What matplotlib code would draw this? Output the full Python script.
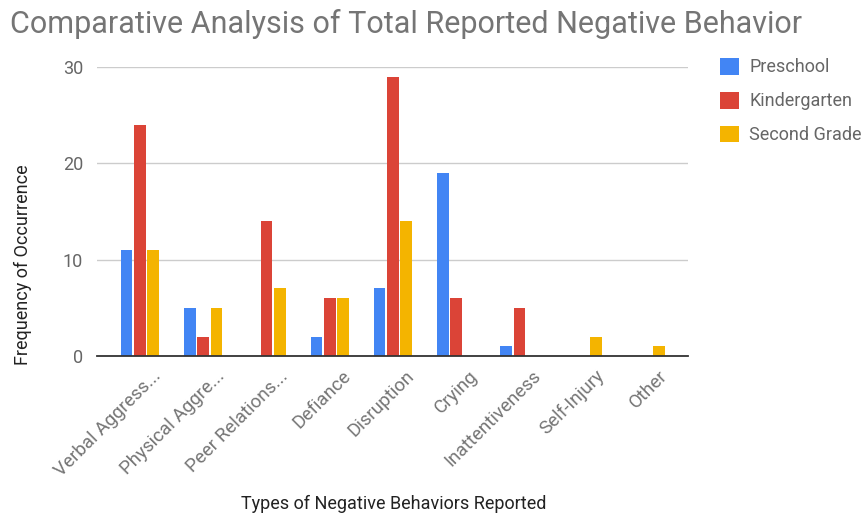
import matplotlib.pyplot as plt
import matplotlib.transforms as mtransforms
import numpy as np

categories = ['Verbal Aggress...', 'Physical Aggre...', 'Peer Relations...', 'Defiance',
              'Disruption', 'Crying', 'Inattentiveness', 'Self-Injury', 'Other']
preschool = [11, 5, 0, 2, 7, 19, 1, 0, 0]
kindergarten = [24, 2, 14, 6, 29, 6, 5, 0, 0]
second_grade = [11, 5, 7, 6, 14, 0, 0, 2, 1]
series_names = ['Preschool', 'Kindergarten', 'Second Grade']
y_ticks = [0, 10, 20, 30]

colors = ['#4285F4', '#DB4437', '#F4B400']

plt.rcParams['font.family'] = ['Roboto', 'DejaVu Sans']

fig = plt.figure(figsize=(8.65, 5.15), dpi=100)
ax = fig.add_axes([0.112, 0.309, 0.683, 0.561])

x = np.arange(len(categories))
width = 0.185
offsets = [-0.21, 0, 0.21]
for vals, off, col, name in zip([preschool, kindergarten, second_grade], offsets, colors, series_names):
    ax.bar(x + off, vals, width, color=col, label=name, zorder=3)

ax.set_xlim(-0.68, 8.66)
ax.set_ylim(0, 30)
ax.set_yticks(y_ticks)
ax.set_yticklabels([str(t) for t in y_ticks], fontsize=13, color='#666666')
ax.set_xticks(x)
ax.set_xticklabels(categories, rotation=45, ha='right', rotation_mode='anchor',
                   fontsize=13.5, color='#757575')
ax.tick_params(axis='both', length=0)
ax.tick_params(axis='y', pad=10)
ax.tick_params(axis='x', pad=8)
shift = mtransforms.ScaledTranslation(12 / 100, 0, fig.dpi_scale_trans)
for lbl in ax.get_xticklabels():
    lbl.set_transform(lbl.get_transform() + shift)

ax.grid(axis='y', color='#cccccc', linewidth=1, zorder=0)
for s in ['top', 'right', 'left']:
    ax.spines[s].set_visible(False)
ax.spines['bottom'].set_color('#333333')
ax.spines['bottom'].set_linewidth(1.3)
ax.spines['bottom'].set_zorder(4)

ax.set_ylabel('Frequency of Occurrence', fontsize=13, color='#222222')
ax.yaxis.set_label_coords(-0.11, 0.315)
fig.text(0.455, 0.012, 'Types of Negative Behaviors Reported', fontsize=13, color='#222222', ha='center')

fig.text(0.012, 0.935, 'Comparative Analysis of Total Reported Negative Behavior',
         fontsize=22, color='#757575', ha='left')

leg = ax.legend(loc='upper left', bbox_to_anchor=(1.034, 1.075), frameon=False,
                fontsize=13, handlelength=1.05, handleheight=1.05, labelspacing=0.85,
                handletextpad=0.55, borderaxespad=0.3)
for t in leg.get_texts():
    t.set_color('#666666')

fig.savefig('out.png', dpi=100)
